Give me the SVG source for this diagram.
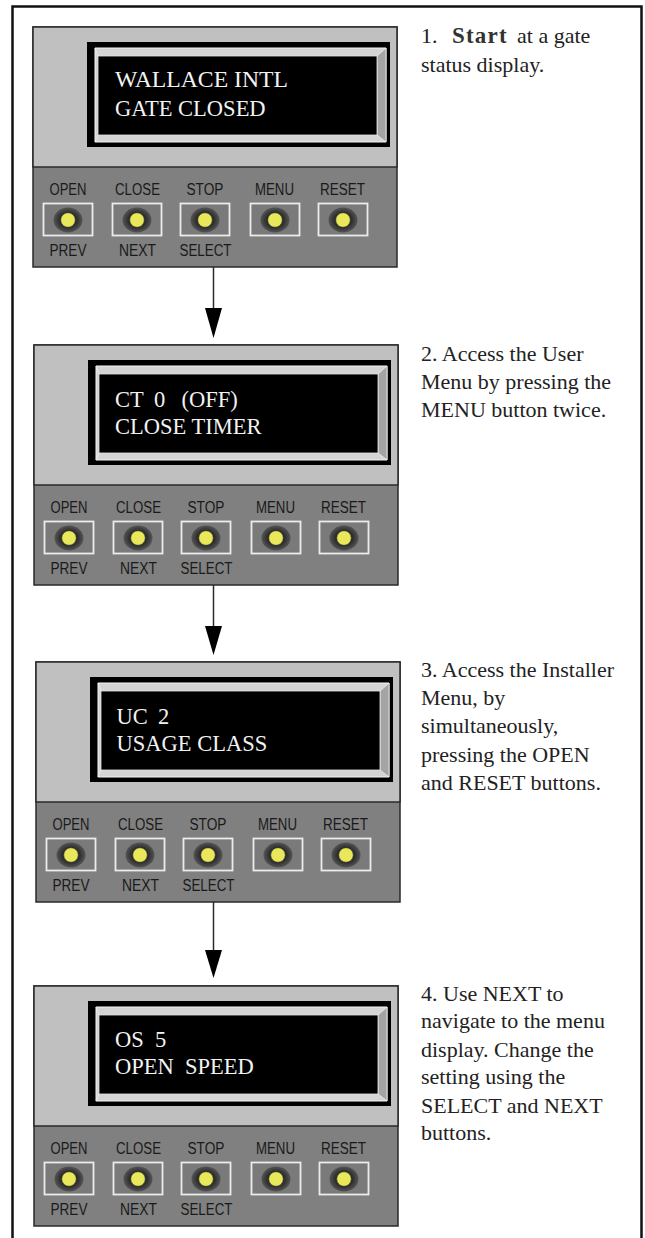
<svg xmlns="http://www.w3.org/2000/svg" xmlns:xlink="http://www.w3.org/1999/xlink" width="645" height="1238" viewBox="0 0 645 1238">
<style>
.lbl{font-family:"Liberation Sans",Arial,sans-serif;font-size:16px;fill:#1a1a1a;text-anchor:middle}
.disp{font-family:"Liberation Serif","Times New Roman",serif;font-size:22.5px;fill:#f2f2f2}
.note{font-family:"Liberation Serif","Times New Roman",serif;font-size:22px;fill:#222}
.btn{fill:#7a7a7a;stroke:#ececec;stroke-width:1.8}
.led{fill:#e8e85a;stroke:#2a2a2a;stroke-width:0.6}
.conn{stroke:#2a2a2a;stroke-width:1.5;fill:none}
.head{fill:#000}
</style>
<defs>
<radialGradient id="rg" cx="0.5" cy="0.5" r="0.5">
<stop offset="0.6" stop-color="#2e2e2e"/>
<stop offset="1" stop-color="#555"/>
</radialGradient>
<g id="body">
<rect x="0" y="0" width="364" height="240" fill="#808080" stroke="#2a2a2a" stroke-width="1.5"/>
<rect x="0" y="0" width="364" height="140" fill="#c0c0c0" stroke="#2a2a2a" stroke-width="1.5"/>
<rect x="54" y="15" width="303" height="105" fill="#000"/>
<polygon points="62,21 353,21 353,115 62,115" fill="#d4d4d4" stroke="#f4f4f4" stroke-width="1"/>
<polygon points="344,29 353,21 353,115 344,108" fill="#a4a4a4" stroke="#f0f0f0" stroke-width="0.8"/>
<rect x="65" y="29" width="279" height="79" fill="#000" stroke="#e4e4e4" stroke-width="0.8"/>
<line x1="62" y1="21" x2="65" y2="29" stroke="#f0f0f0" stroke-width="0.8"/>
<line x1="62" y1="115" x2="65" y2="108" stroke="#f0f0f0" stroke-width="0.8"/>
</g>
<g id="key">
<rect class="btn" x="-24.5" y="176.5" width="49" height="32"/>
<ellipse cx="0" cy="193" rx="14.5" ry="12.5" fill="url(#rg)"/>
<circle class="led" cx="0" cy="193" r="7.3"/>
</g>
<g id="keypad">
<use xlink:href="#key" transform="translate(35,0)"/>
<use xlink:href="#key" transform="translate(104,0)"/>
<use xlink:href="#key" transform="translate(172,0)"/>
<use xlink:href="#key" transform="translate(242,0)"/>
<use xlink:href="#key" transform="translate(310,0)"/>
<text class="lbl" x="35" y="168" textLength="37" lengthAdjust="spacingAndGlyphs">OPEN</text>
<text class="lbl" x="104.5" y="168" textLength="45" lengthAdjust="spacingAndGlyphs">CLOSE</text>
<text class="lbl" x="172" y="168" textLength="37" lengthAdjust="spacingAndGlyphs">STOP</text>
<text class="lbl" x="241.5" y="168" textLength="39" lengthAdjust="spacingAndGlyphs">MENU</text>
<text class="lbl" x="309.5" y="168" textLength="45" lengthAdjust="spacingAndGlyphs">RESET</text>
<text class="lbl" x="35" y="229" textLength="37" lengthAdjust="spacingAndGlyphs">PREV</text>
<text class="lbl" x="104.5" y="229" textLength="37" lengthAdjust="spacingAndGlyphs">NEXT</text>
<text class="lbl" x="172.5" y="229" textLength="52" lengthAdjust="spacingAndGlyphs">SELECT</text>
</g>
</defs>

<rect x="0" y="0" width="645" height="1238" fill="#fff"/>
<path d="M12.5,1238 V6.5 H641.5 V1238" fill="none" stroke="#111" stroke-width="2.5"/>

<g id="panel1" transform="translate(33,27)">
<use xlink:href="#body"/>
<use xlink:href="#keypad"/>
<text class="disp" x="82" y="60" textLength="173" lengthAdjust="spacingAndGlyphs">WALLACE INTL</text>
<text class="disp" x="82" y="89">GATE CLOSED</text>
</g>

<g id="panel2" transform="translate(34,345)">
<use xlink:href="#body"/>
<use xlink:href="#keypad"/>
<text class="disp" y="62"><tspan x="81">CT</tspan><tspan x="120">0</tspan><tspan x="147.5">(OFF)</tspan></text>
<text class="disp" x="81" y="89">CLOSE TIMER</text>
</g>

<g id="panel3" transform="translate(36,662)">
<use xlink:href="#body"/>
<use xlink:href="#keypad"/>
<text class="disp" y="62"><tspan x="80.5">UC</tspan><tspan x="122">2</tspan></text>
<text class="disp" x="80.5" y="89">USAGE CLASS</text>
</g>

<g id="panel4" transform="translate(34,986)">
<use xlink:href="#body"/>
<use xlink:href="#keypad"/>
<text class="disp" y="61"><tspan x="81">OS</tspan><tspan x="121">5</tspan></text>
<text class="disp" y="88"><tspan x="81">OPEN</tspan><tspan x="151">SPEED</tspan></text>
</g>

<g id="connectors">
<line class="conn" x1="213.5" y1="267" x2="213.5" y2="310"/>
<polygon class="head" points="205,308 222,308 213.5,338"/>
<line class="conn" x1="213.5" y1="585" x2="213.5" y2="628"/>
<polygon class="head" points="205,626 222,626 213.5,655"/>
<line class="conn" x1="213.5" y1="902" x2="213.5" y2="952"/>
<polygon class="head" points="205,950 222,950 213.5,978"/>
</g>

<g id="step1">
<text class="note" y="43"><tspan x="421">1.</tspan><tspan x="452" font-size="23" letter-spacing="1.2" font-weight="bold" fill="#333">Start</tspan><tspan x="517">at a gate</tspan></text>
<text class="note" x="421" y="72">status display.</text>
</g>
<g id="step2">
<text class="note" x="421" y="361">2. Access the User</text>
<text class="note" x="421" y="389">Menu by pressing the</text>
<text class="note" x="421" y="417">MENU button twice.</text>
</g>
<g id="step3">
<text class="note" x="421" y="677">3. Access the Installer</text>
<text class="note" x="421" y="705">Menu, by</text>
<text class="note" x="421" y="733">simultaneously,</text>
<text class="note" x="421" y="762">pressing the OPEN</text>
<text class="note" x="421" y="790">and RESET buttons.</text>
</g>
<g id="step4">
<text class="note" x="421" y="1001">4. Use NEXT to</text>
<text class="note" x="421" y="1028">navigate to the menu</text>
<text class="note" x="421" y="1057">display. Change the</text>
<text class="note" x="421" y="1084">setting using the</text>
<text class="note" x="421" y="1113">SELECT and NEXT</text>
<text class="note" x="421" y="1140">buttons.</text>
</g>
</svg>
